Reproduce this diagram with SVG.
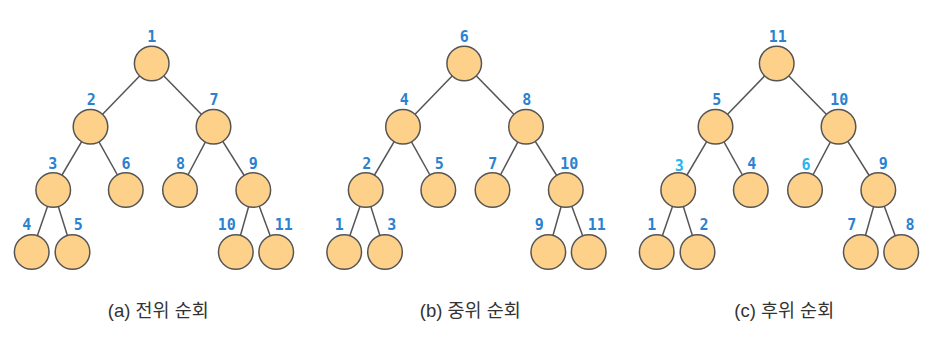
<svg xmlns="http://www.w3.org/2000/svg" width="940" height="342" viewBox="0 0 940 342">
<style>
.e{stroke:#555;stroke-width:1.5;fill:none}
.n{fill:#fed18b;stroke:#555;stroke-width:1.5}
.l{font-family:"DejaVu Sans Mono",monospace;font-weight:bold;font-size:15px;fill:#2a82d0;text-anchor:middle}
.lc{fill:#2ab4ee}
.cap{font-family:"Liberation Sans","Noto Sans CJK KR",sans-serif;font-size:18.5px;fill:#333;text-anchor:middle}
</style>
<defs>
<g id="edges">
<line class="e" x1="151.7" y1="63.5" x2="90.5" y2="126.7"/>
<line class="e" x1="151.7" y1="63.5" x2="213.5" y2="126.7"/>
<line class="e" x1="90.5" y1="126.7" x2="53.2" y2="190"/>
<line class="e" x1="90.5" y1="126.7" x2="125.8" y2="190"/>
<line class="e" x1="213.5" y1="126.7" x2="180" y2="190"/>
<line class="e" x1="213.5" y1="126.7" x2="253.3" y2="190"/>
<line class="e" x1="53.2" y1="190" x2="31.7" y2="252"/>
<line class="e" x1="53.2" y1="190" x2="72.5" y2="252"/>
<line class="e" x1="253.3" y1="190" x2="235.8" y2="252"/>
<line class="e" x1="253.3" y1="190" x2="276.2" y2="252"/>
</g>
</defs>
<rect width="940" height="342" fill="#fff"/>
<g id="connectors">
<use href="#edges"/>
<use href="#edges" transform="translate(312.5,0)"/>
<use href="#edges" transform="translate(625,0)"/>
</g>
<g id="tree-a">
<g id="a1"><circle class="n" cx="151.7" cy="63.5" r="17.3"/><text class="l" x="151.7" y="41.7">1</text></g>
<g id="a2"><circle class="n" cx="90.5" cy="126.7" r="17.3"/><text class="l" x="91.3" y="105">2</text></g>
<g id="a7"><circle class="n" cx="213.5" cy="126.7" r="17.3"/><text class="l" x="214" y="105">7</text></g>
<g id="a3"><circle class="n" cx="53.2" cy="190" r="17.3"/><text class="l" x="52.8" y="169">3</text></g>
<g id="a6"><circle class="n" cx="125.8" cy="190" r="17.3"/><text class="l" x="126" y="169">6</text></g>
<g id="a8"><circle class="n" cx="180" cy="190" r="17.3"/><text class="l" x="180.5" y="169">8</text></g>
<g id="a9"><circle class="n" cx="253.3" cy="190" r="17.3"/><text class="l" x="253.3" y="169">9</text></g>
<g id="a4"><circle class="n" cx="31.7" cy="252" r="17.3"/><text class="l" x="26.7" y="230">4</text></g>
<g id="a5"><circle class="n" cx="72.5" cy="252" r="17.3"/><text class="l" x="78.3" y="230">5</text></g>
<g id="a10"><circle class="n" cx="235.8" cy="252" r="17.3"/><text class="l" x="226.7" y="230">10</text></g>
<g id="a11"><circle class="n" cx="276.2" cy="252" r="17.3"/><text class="l" x="283.8" y="230">11</text></g>
</g>
<g id="tree-b" transform="translate(312.5,0)">
<g id="b6"><circle class="n" cx="151.7" cy="63.5" r="17.3"/><text class="l" x="151.8" y="41.7">6</text></g>
<g id="b4"><circle class="n" cx="90.5" cy="126.7" r="17.3"/><text class="l" x="91.8" y="105">4</text></g>
<g id="b8"><circle class="n" cx="213.5" cy="126.7" r="17.3"/><text class="l" x="214.2" y="105">8</text></g>
<g id="b2"><circle class="n" cx="53.2" cy="190" r="17.3"/><text class="l" x="54.2" y="169">2</text></g>
<g id="b5"><circle class="n" cx="125.8" cy="190" r="17.3"/><text class="l" x="126.8" y="169">5</text></g>
<g id="b7"><circle class="n" cx="180" cy="190" r="17.3"/><text class="l" x="180.2" y="169">7</text></g>
<g id="b10"><circle class="n" cx="253.3" cy="190" r="17.3"/><text class="l" x="256.8" y="169">10</text></g>
<g id="b1"><circle class="n" cx="31.7" cy="252" r="17.3"/><text class="l" x="26.8" y="230">1</text></g>
<g id="b3"><circle class="n" cx="72.5" cy="252" r="17.3"/><text class="l" x="79.2" y="230">3</text></g>
<g id="b9"><circle class="n" cx="235.8" cy="252" r="17.3"/><text class="l" x="226.8" y="230">9</text></g>
<g id="b11"><circle class="n" cx="276.2" cy="252" r="17.3"/><text class="l" x="284.2" y="230">11</text></g>
</g>
<g id="tree-c" transform="translate(625,0)">
<g id="c11"><circle class="n" cx="151.7" cy="63.5" r="17.3"/><text class="l" x="152.7" y="41.7">11</text></g>
<g id="c5"><circle class="n" cx="90.5" cy="126.7" r="17.3"/><text class="l" x="91.7" y="105">5</text></g>
<g id="c10"><circle class="n" cx="213.5" cy="126.7" r="17.3"/><text class="l" x="214.3" y="105">10</text></g>
<g id="c3"><circle class="n" cx="53.2" cy="190" r="17.3"/><text class="l lc" x="54.3" y="171">3</text></g>
<g id="c4"><circle class="n" cx="125.8" cy="190" r="17.3"/><text class="l" x="126.7" y="169">4</text></g>
<g id="c6"><circle class="n" cx="180" cy="190" r="17.3"/><text class="l lc" x="181" y="170">6</text></g>
<g id="c9"><circle class="n" cx="253.3" cy="190" r="17.3"/><text class="l" x="258.3" y="169">9</text></g>
<g id="c1"><circle class="n" cx="31.7" cy="252" r="17.3"/><text class="l" x="26.7" y="230">1</text></g>
<g id="c2"><circle class="n" cx="72.5" cy="252" r="17.3"/><text class="l" x="79" y="230">2</text></g>
<g id="c7"><circle class="n" cx="235.8" cy="252" r="17.3"/><text class="l" x="226.7" y="230">7</text></g>
<g id="c8"><circle class="n" cx="276.2" cy="252" r="17.3"/><text class="l" x="285" y="230">8</text></g>
</g>
<g id="captions">
<text class="cap" x="158.3" y="317">(a) 전위 순회</text>
<text class="cap" x="470.3" y="317">(b) 중위 순회</text>
<text class="cap" x="784.2" y="317">(c) 후위 순회</text>
</g>
</svg>
